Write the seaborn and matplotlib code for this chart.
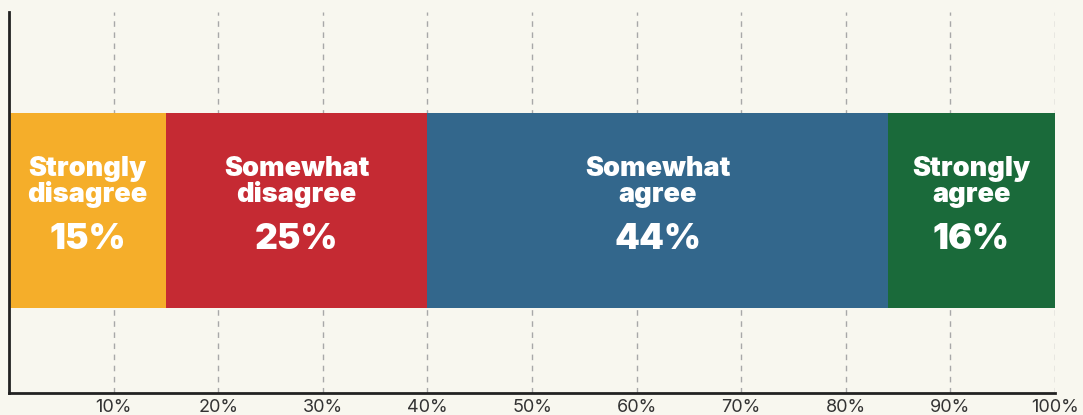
import matplotlib
matplotlib.use("Agg")
import matplotlib.pyplot as plt
import seaborn as sns
import numpy as np

# Data
categories = ["Strongly\ndisagree", "Somewhat\ndisagree", "Somewhat\nagree", "Strongly\nagree"]
values = [15, 25, 44, 16]
colors = ["#F5AE2A", "#C52A33", "#33678C", "#1A6A3A"]
tick_values = [10, 20, 30, 40, 50, 60, 70, 80, 90, 100]
tick_labels = [f"{v}%" for v in tick_values]

sns.set_theme(style="white")
plt.rcParams['font.family'] = ['Inter', 'DejaVu Sans']
bg = "#F8F7EF"

fig = plt.figure(figsize=(10.83, 4.15), dpi=100, facecolor=bg)
ax = fig.add_axes([9/1083, 1 - 393/415, (1055 - 9)/1083, (393 - 12)/415])
ax.set_facecolor(bg)

cum = np.cumsum(values)
lefts = cum - np.array(values)
# Draw cumulative bars from largest to smallest so they stack visually
for i in range(len(values) - 1, -1, -1):
    sns.barplot(x=[cum[i]], y=[0], orient="h", color=colors[i], width=0.8,
                saturation=1, ax=ax, native_scale=True, zorder=2,
                linewidth=0, edgecolor=colors[i])

ax.set_xlim(0, 100)
ax.set_ylim(-0.749, 0.814)
ax.set_yticks([])
ax.set_ylabel("")
ax.set_xticks(tick_values)
ax.set_xticklabels(tick_labels, fontsize=13, color="#333333", fontweight="normal")
ax.tick_params(axis="x", length=0, pad=4)
for v in tick_values:
    ax.axvline(v, color="#A8A8A8", linestyle=(0, (4, 4)), linewidth=1, zorder=1)

for s in ["top", "right"]:
    ax.spines[s].set_visible(False)
for s in ["left", "bottom"]:
    ax.spines[s].set_color("#222222")
    ax.spines[s].set_linewidth(2)

for cat, v, l in zip(categories, values, lefts):
    cx = l + v / 2
    line1, line2 = cat.split("\n")
    ax.text(cx, 0.141, line1, ha="center", va="baseline", color="white",
            fontsize=19.5, fontweight="black", zorder=3)
    ax.text(cx, 0.035, line2, ha="center", va="baseline", color="white",
            fontsize=19.5, fontweight="black", zorder=3)
    ax.text(cx, -0.16, f"{v}%", ha="center", va="baseline", color="white",
            fontsize=25.5, fontweight="black", zorder=3)

fig.savefig("out.png", dpi=100, facecolor=bg)
